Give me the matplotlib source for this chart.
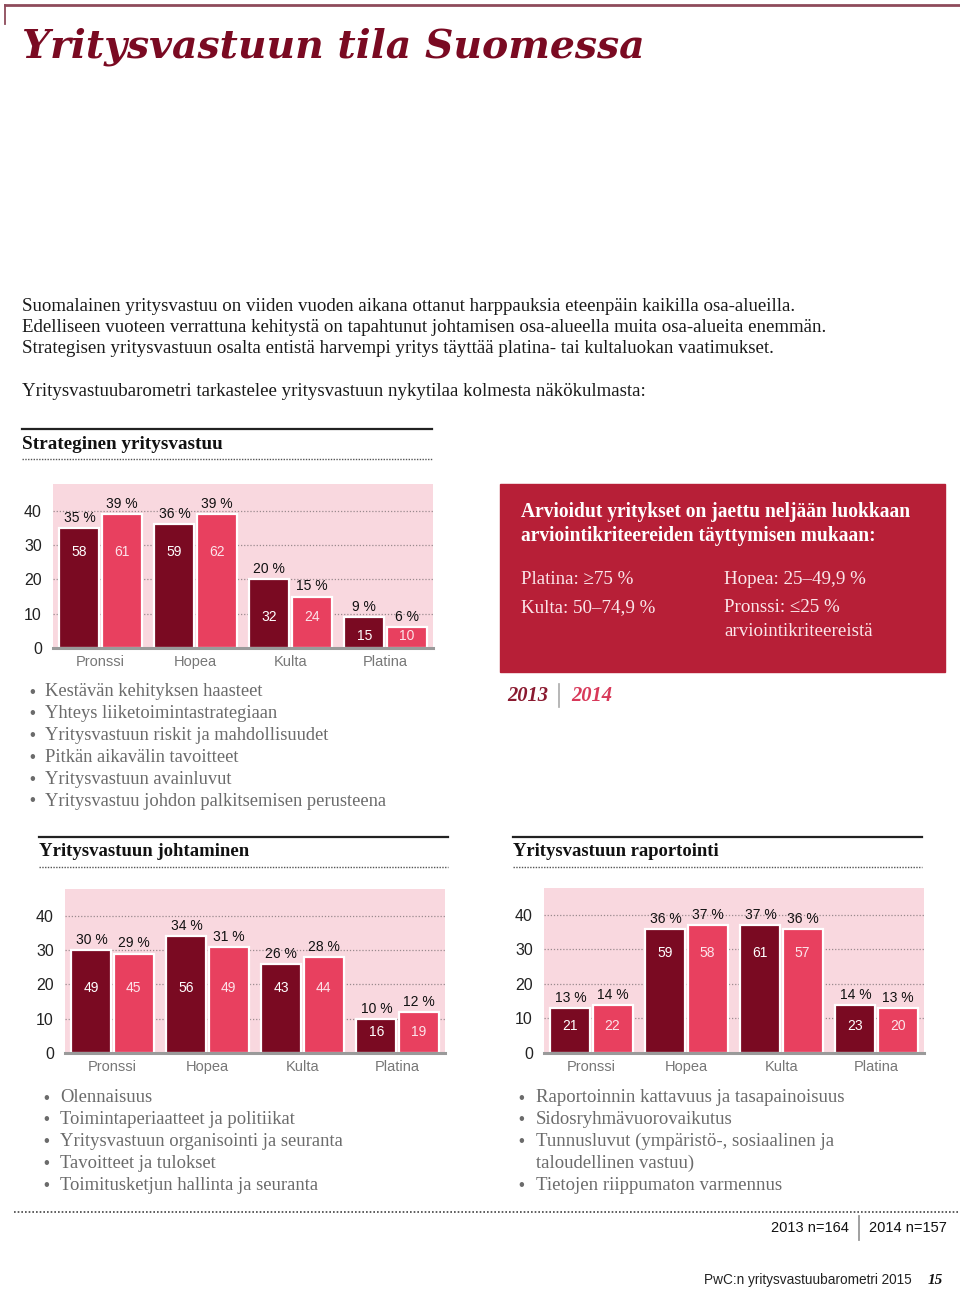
import matplotlib
matplotlib.use("Agg")
import matplotlib.pyplot as plt
from matplotlib.patches import Rectangle
from matplotlib.lines import Line2D

# ---------------- data ----------------
categories = ["Pronssi", "Hopea", "Kulta", "Platina"]

strat_pct_2013 = [35, 36, 20, 9]
strat_pct_2014 = [39, 39, 15, 6]
strat_n_2013 = [58, 59, 32, 15]
strat_n_2014 = [61, 62, 24, 10]

lead_pct_2013 = [30, 34, 26, 10]
lead_pct_2014 = [29, 31, 28, 12]
lead_n_2013 = [49, 56, 43, 16]
lead_n_2014 = [45, 49, 44, 19]

rep_pct_2013 = [13, 36, 37, 14]
rep_pct_2014 = [14, 37, 36, 13]
rep_n_2013 = [21, 59, 61, 23]
rep_n_2014 = [22, 58, 57, 20]

yticks = [0, 10, 20, 30, 40]

title = "Yritysvastuun tila Suomessa"
intro_lines = [
    "Suomalainen yritysvastuu on viiden vuoden aikana ottanut harppauksia eteenpäin kaikilla osa-alueilla.",
    "Edelliseen vuoteen verrattuna kehitystä on tapahtunut johtamisen osa-alueella muita osa-alueita enemmän.",
    "Strategisen yritysvastuun osalta entistä harvempi yritys täyttää platina- tai kultaluokan vaatimukset.",
]
intro2 = "Yritysvastuubarometri tarkastelee yritysvastuun nykytilaa kolmesta näkökulmasta:"

strat_header = "Strateginen yritysvastuu"
lead_header = "Yritysvastuun johtaminen"
rep_header = "Yritysvastuun raportointi"

strat_bullets = [
    "Kestävän kehityksen haasteet",
    "Yhteys liiketoimintastrategiaan",
    "Yritysvastuun riskit ja mahdollisuudet",
    "Pitkän aikavälin tavoitteet",
    "Yritysvastuun avainluvut",
    "Yritysvastuu johdon palkitsemisen perusteena",
]
lead_bullets = [
    "Olennaisuus",
    "Toimintaperiaatteet ja politiikat",
    "Yritysvastuun organisointi ja seuranta",
    "Tavoitteet ja tulokset",
    "Toimitusketjun hallinta ja seuranta",
]
rep_bullets = [
    ("Raportoinnin kattavuus ja tasapainoisuus", True),
    ("Sidosryhmävuorovaikutus", True),
    ("Tunnusluvut (ympäristö-, sosiaalinen ja", True),
    ("taloudellinen vastuu)", False),
    ("Tietojen riippumaton varmennus", True),
]

box_title = ["Arvioidut yritykset on jaettu neljään luokkaan",
             "arviointikriteereiden täyttymisen mukaan:"]
box_left = ["Platina: ≥75 %", "Kulta: 50–74,9 %"]
box_right = ["Hopea: 25–49,9 %", "Pronssi: ≤25 %", "arviointikriteereistä"]

# ---------------- style ----------------
W, H = 960, 1290
DARK = "#7A0A22"
LIGHT = "#E8405F"
PINK_BG = "#F9D8DF"
BOX = "#B71F37"
GRAYTXT = "#6b6b6b"
SERIF = "Liberation Serif"
SANS = "Liberation Sans"

fig = plt.figure(figsize=(W / 100, H / 100), dpi=100)
fig.patch.set_facecolor("white")
renderer = fig.canvas.get_renderer()


def fx(x):
    return x / W


def fy(y):
    return 1 - y / H


def T(x, y, s, **kw):
    kw.setdefault("va", "center")
    kw.setdefault("ha", "left")
    return fig.text(fx(x), fy(y), s, **kw)


def fit(texts, ref_text, target_w):
    """Scale font size of texts so that ref_text spans target_w pixels."""
    w = ref_text.get_window_extent(renderer=renderer).width
    k = target_w / w
    for t in texts:
        t.set_fontsize(t.get_fontsize() * k)


def hline(x0, x1, y, **kw):
    fig.add_artist(Line2D([fx(x0), fx(x1)], [fy(y), fy(y)],
                          transform=fig.transFigure, **kw))


def vline(x, y0, y1, **kw):
    fig.add_artist(Line2D([fx(x), fx(x)], [fy(y0), fy(y1)],
                          transform=fig.transFigure, **kw))


# top border
hline(5, 960, 5, color="#8E4B5B", lw=2)
vline(5, 5, 24, color="#8E4B5B", lw=1.3)

# title
tt = T(22, 47, title, family="DejaVu Serif", weight="bold", style="italic",
       fontsize=30, color=DARK)
fit([tt], tt, 623)

# intro text
intro_t = []
for i, line in enumerate(intro_lines):
    intro_t.append(T(22, 306 + i * 21.5, line, family=SERIF, fontsize=13.2,
                     color="#1a1a1a"))
intro_t.append(T(22, 391, intro2, family=SERIF, fontsize=13.2, color="#1a1a1a"))
fit(intro_t, intro_t[1], 808)


def section_header(x0, x1, y_line, y_text, y_dot, text, target):
    hline(x0, x1, y_line, color="#222222", lw=1.6)
    t = T(x0, y_text, text, family=SERIF, weight="bold", fontsize=13, color="#111111")
    fit([t], t, target)
    hline(x0, x1, y_dot, color="#555555", lw=1.0, linestyle=(0, (1, 1)))


section_header(22, 432, 429, 445, 459, strat_header, 200)
section_header(39, 448, 837, 852, 867, lead_header, 210)
section_header(513, 922, 837, 852, 867, rep_header, 205)


def bar_chart(x0, x1, ytop, ybase, pct13, pct14, n13, n14):
    ax = fig.add_axes([fx(x0), fy(ybase), (x1 - x0) / W, (ybase - ytop) / H])
    ax.set_facecolor(PINK_BG)
    ax.set_xlim(-0.5, 3.5)
    ax.set_ylim(0, 47.8)
    for s in ax.spines.values():
        s.set_visible(False)
    ax.set_yticks(yticks)
    ax.set_yticklabels([str(t) for t in yticks], family=SANS, fontsize=11.5,
                       color="#222222")
    ax.tick_params(axis="y", length=0, pad=8)
    ax.set_xticks(range(len(categories)))
    ax.set_xticklabels(categories, family=SANS, fontsize=10.5, color="#777777")
    ax.tick_params(axis="x", length=0, pad=5)
    for t in yticks[1:]:
        ax.axhline(t, color="#9a8a8e", lw=0.9, linestyle=(0, (1, 1.5)), zorder=1)
    ax.axhline(0, color="#9a9a9a", lw=2.2, zorder=5, clip_on=False)
    xs = range(len(categories))
    off, bw = 0.222, 0.42
    ax.bar([x - off for x in xs], pct13, width=bw, color=DARK,
           edgecolor="white", linewidth=1.6, zorder=3)
    ax.bar([x + off for x in xs], pct14, width=bw, color=LIGHT,
           edgecolor="white", linewidth=1.6, zorder=3)
    # label level for count labels inside the bars
    group_min = [min(a, b) for a, b in zip(pct13, pct14)]
    tall = [m for m in group_min if m >= 20]
    tall_level = (min(tall) - 7) if tall else 0
    for i in xs:
        lvl = tall_level if group_min[i] >= 20 else group_min[i] * 0.6
        ax.text(i - off, lvl, str(n13[i]), ha="center", va="center",
                family=SANS, fontsize=10, color="white", zorder=4)
        ax.text(i + off, lvl, str(n14[i]), ha="center", va="center",
                family=SANS, fontsize=10, color="#FCE4EA", zorder=4)
        ax.text(i - off, pct13[i] + 0.9, f"{pct13[i]} %", ha="center", va="bottom",
                family=SANS, fontsize=10, color="#111111", zorder=4)
        ax.text(i + off, pct14[i] + 0.9, f"{pct14[i]} %", ha="center", va="bottom",
                family=SANS, fontsize=10, color="#111111", zorder=4)
    return ax


bar_chart(53, 433, 484, 648, strat_pct_2013, strat_pct_2014, strat_n_2013, strat_n_2014)
bar_chart(65, 445, 889, 1053, lead_pct_2013, lead_pct_2014, lead_n_2013, lead_n_2014)
bar_chart(544, 924, 888, 1053, rep_pct_2013, rep_pct_2014, rep_n_2013, rep_n_2014)


def bullets(xb, xt, y0, items, fit_idx, target_w, step=21.8):
    texts = []
    for i, it in enumerate(items):
        if isinstance(it, tuple):
            text, has_bullet = it
        else:
            text, has_bullet = it, True
        y = y0 + i * step
        if has_bullet:
            T(xb, y, "•", family=SANS, fontsize=12, color=GRAYTXT, ha="center")
        texts.append(T(xt, y, text, family=SERIF, fontsize=13, color=GRAYTXT))
    fit(texts, texts[fit_idx], target_w)


bullets(32, 45, 692, strat_bullets, 5, 340)
bullets(46, 60, 1098, lead_bullets, 2, 281)
bullets(521, 536, 1098, rep_bullets, 0, 307)

# red info box
fig.add_artist(Rectangle((fx(500), fy(672)), 445 / W, 188 / H,
                         transform=fig.transFigure, color=BOX, zorder=0))
bt = []
for i, line in enumerate(box_title):
    bt.append(T(521, 512 + i * 24, line, family=SERIF, weight="bold",
                fontsize=13.5, color="white"))
fit(bt, bt[0], 390)
for i, line in enumerate(box_left):
    T(521, 579 + i * 29, line, family=SERIF, fontsize=13.7, color="#FBE6EA")
for i, line in enumerate(box_right):
    yy = 579 + i * 29 if i < 2 else 631
    T(724, yy, line, family=SERIF, fontsize=13.7, color="#FBE6EA")

# year legend
y1 = T(507, 696, "2013", family=SERIF, weight="bold", style="italic", fontsize=13,
       color="#8A1A30")
vline(559, 684, 707, color="#aaaaaa", lw=1.2)
y2 = T(571, 696, "2014", family=SERIF, weight="bold", style="italic", fontsize=13,
       color="#D8395A")
fit([y1, y2], y1, 41)

# bottom dotted rule and sample sizes
hline(14, 958, 1212, color="#444444", lw=1.2, linestyle=(0, (1, 1.2)))
T(849, 1228, "2013 n=164", family=SANS, fontsize=10.5, color="#111111", ha="right")
vline(859, 1216, 1240, color="#999999", lw=1.3)
T(869, 1228, "2014 n=157", family=SANS, fontsize=10.5, color="#111111")

# footer
T(912, 1280, "PwC:n yritysvastuubarometri 2015", family=SANS, fontsize=9.8,
  color="#222222", ha="right")
T(943, 1280, "15", family=SERIF, weight="bold", style="italic", fontsize=11,
  color="#111111", ha="right")

fig.savefig("out.png", dpi=100, facecolor="white")
